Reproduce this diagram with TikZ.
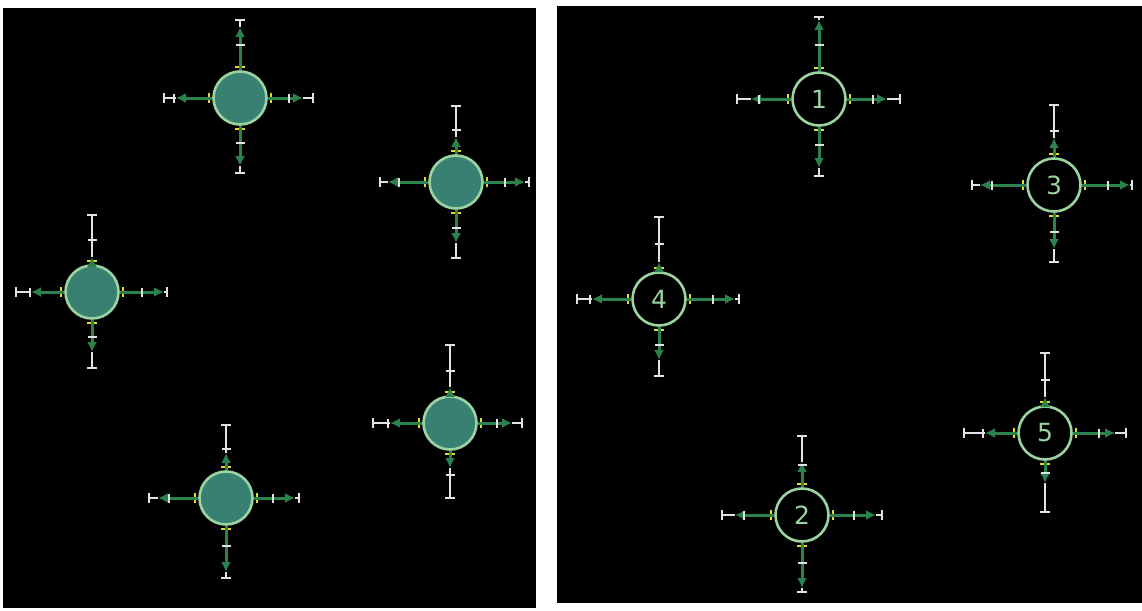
\documentclass[tikz,border=0pt]{standalone}
\usepackage{fontspec}
\setsansfont{DejaVu Sans}
\usepackage{tikz}
\usetikzlibrary{arrows.meta,calc}

\definecolor{sensfill}{RGB}{56,128,114}
\definecolor{sensline}{RGB}{155,212,160}
\definecolor{flowgreen}{RGB}{44,130,76}
\definecolor{tickyellow}{RGB}{228,220,40}
\definecolor{barwhite}{RGB}{226,226,226}

% one arm of a sensor: node, angle, arrow tip, mid tick, end cap (pt from centre)
\newcommand{\senarm}[5]{%
  \coordinate (#1-#2-tip) at ($(#1.center)+(#2:#3pt)$);
  \coordinate (#1-#2-mid) at ($(#1.center)+(#2:#4pt)$);
  \coordinate (#1-#2-cap) at ($(#1.center)+(#2:#5pt)$);
  \coordinate (#1-#2-yel) at ($(#1.#2)+(#2:3pt)$);
  \draw[yeltick] (#1-#2-yel) ++(#2+90:5pt) -- ++(#2-90:10pt);
  \draw[flow] (#1.#2) -- (#1-#2-tip);
  \draw[errbar] (#1-#2-tip) -- (#1-#2-cap);
  \draw[errbar] (#1-#2-cap) ++(#2+90:5pt) -- ++(#2-90:10pt);
  \draw[errbar] (#1-#2-mid) ++(#2+90:4.5pt) -- ++(#2-90:9pt);
}

\begin{document}
\begin{tikzpicture}[
    x=1pt, y=-1pt,
    sensor/.style={circle, draw=sensline, line width=2.6pt, minimum size=53pt, inner sep=0pt},
    filled/.style={sensor, fill=sensfill},
    hollow/.style={sensor, fill=black, text=sensline, font=\sffamily\fontsize{25}{25}\selectfont},
    flow/.style={draw=flowgreen, line width=3pt, -{Latex[length=10pt,width=10pt]}},
    errbar/.style={draw=barwhite, line width=1.4pt},
    yeltick/.style={draw=tickyellow, line width=2pt},
  ]
  \useasboundingbox (0,0) rectangle (1142,610);
  % the two panels
  \fill[black] (3,8) rectangle (536,608);
  \fill[black] (557,6) rectangle (1142,603);

  % left panel
  \node[filled] (A) at (240,98) {};
  \foreach \ang/\t/\m/\e in {90/71/53/78, 180/64/66/76, 0/63/49/73, 270/68/45/75}
    {\senarm{A}{\ang}{\t}{\m}{\e}}
  \node[filled] (B) at (456,182) {};
  \foreach \ang/\t/\m/\e in {90/45/52/76, 180/68/57/76, 0/69/49/73, 270/61/46/76}
    {\senarm{B}{\ang}{\t}{\m}{\e}}
  \node[filled] (C) at (92,292) {};
  \foreach \ang/\t/\m/\e in {90/35/52/77, 180/61/62/76, 0/72/50/75, 270/60/45/76}
    {\senarm{C}{\ang}{\t}{\m}{\e}}
  \node[filled] (D) at (450,423) {};
  \foreach \ang/\t/\m/\e in {90/36/52/78, 180/60/62/77, 0/62/47/72, 270/45/52/75}
    {\senarm{D}{\ang}{\t}{\m}{\e}}
  \node[filled] (E) at (226,498) {};
  \foreach \ang/\t/\m/\e in {90/45/49/73, 180/68/57/77, 0/69/47/73, 270/74/48/80}
    {\senarm{E}{\ang}{\t}{\m}{\e}}

  % right panel
  \node[hollow] (s1) at (819,99) {1};
  \foreach \ang/\t/\m/\e in {90/79/54/82, 180/68/60/82, 0/68/54/81, 270/69/46/77}
    {\senarm{s1}{\ang}{\t}{\m}{\e}}
  \node[hollow] (s3) at (1054,185) {3};
  \foreach \ang/\t/\m/\e in {90/47/54/80, 180/74/62/82, 0/76/54/78, 270/64/47/77}
    {\senarm{s3}{\ang}{\t}{\m}{\e}}
  \node[hollow] (s4) at (659,299) {4};
  \foreach \ang/\t/\m/\e in {90/37/55/82, 180/67/69/82, 0/76/54/80, 270/61/46/77}
    {\senarm{s4}{\ang}{\t}{\m}{\e}}
  \node[hollow] (s5) at (1045,433) {5};
  \foreach \ang/\t/\m/\e in {90/36/53/80, 180/60/62/81, 0/70/54/81, 270/50/40/79}
    {\senarm{s5}{\ang}{\t}{\m}{\e}}
  \node[hollow] (s2) at (802,515) {2};
  \foreach \ang/\t/\m/\e in {90/53/50/79, 180/67/58/80, 0/74/52/80, 270/73/48/77}
    {\senarm{s2}{\ang}{\t}{\m}{\e}}
\end{tikzpicture}
\end{document}
